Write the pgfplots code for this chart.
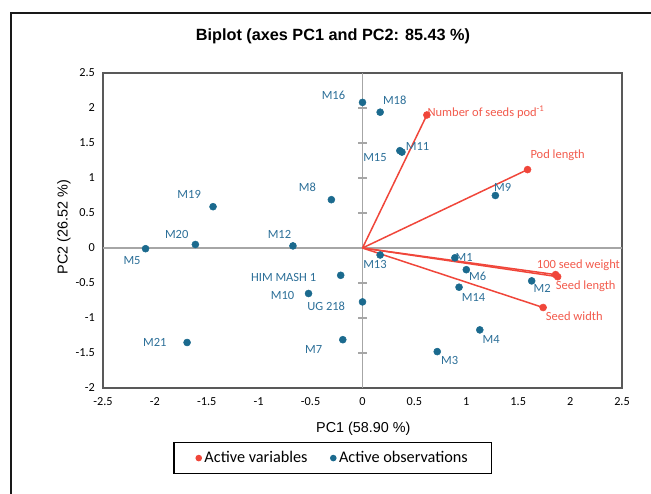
\documentclass[border=0pt]{standalone}
\usepackage{pgfplots}
\pgfplotsset{compat=1.18}
\usepackage{fontspec}
\setmainfont{Carlito}
\newfontfamily\arialfont{Liberation Sans}

\definecolor{obsblue}{HTML}{1B6A8E}
\definecolor{obstext}{HTML}{2C6F98}
\definecolor{varred}{HTML}{F0463A}
\definecolor{vartext}{HTML}{F25A4C}
\definecolor{zerogray}{HTML}{A6A6A6}
\definecolor{framegray}{HTML}{595959}

\pgfplotstableread{
x     y
0.62  1.90
1.59  1.12
1.86 -0.38
1.88 -0.41
1.74 -0.85
}\vars

\pgfplotstableread{
x      y
 0.00  2.08
 0.17  1.94
 0.36  1.39
 0.38  1.37
 1.28  0.75
-0.30  0.69
-1.44  0.59
-1.61  0.05
-2.09 -0.01
-0.67  0.03
 0.17 -0.10
-0.21 -0.39
-0.52 -0.65
 0.00 -0.77
-1.69 -1.35
-0.19 -1.31
 0.89 -0.14
 1.00 -0.31
 1.63 -0.47
 0.93 -0.56
 1.13 -1.17
 0.72 -1.48
}\obs

\begin{document}
\begin{tikzpicture}
\useasboundingbox (0pt,0pt) rectangle (520.8pt,395.2pt);
\draw[line width=1.6pt, black!90] (8.4pt,-5pt) -- (8.4pt,384.8pt) -- (530pt,384.8pt);

\node[font=\arialfont\bfseries\fontsize{13}{15}\selectfont, anchor=base]
  at (266.4pt,362.4pt) {Biplot (axes PC1 and PC2: 85.43 \%)};
\node[font=\arialfont\fontsize{11.5}{14}\selectfont, anchor=base]
  at (290.7pt,49pt) {PC1 (58.90 \%)};
\node[font=\arialfont\fontsize{11.5}{14}\selectfont, anchor=base, rotate=90]
  at (54.1pt,213.6pt) {PC2 (26.52 \%)};

\begin{axis}[
    at={(82.4pt,84.8pt)}, anchor=south west,
    scale only axis, width=415.2pt, height=252pt,
    xmin=-2.5, xmax=2.5, ymin=-2, ymax=2.5,
    xtick={-2.5,-2,-1.5,-1,-0.5,0,0.5,1,1.5,2,2.5},
    xticklabels={-2.5,-2,-1.5,-1,-0.5,0,0.5,1,1.5,2,2.5},
    ytick={-2,-1.5,-1,-0.5,0,0.5,1,1.5,2,2.5},
    yticklabels={-2,-1.5,-1,-0.5,0,0.5,1,1.5,2,2.5},
    major tick length=0pt,
    ticklabel style={font=\fontsize{9.8}{11}\selectfont},
    xticklabel style={yshift=-4pt},
    yticklabel style={xshift=-3pt},
    axis line style={framegray, line width=1pt},
    clip=false,
    legend columns=2,
    legend style={at={(axis description cs:0.443,-0.1714)}, anchor=north,
        draw=black, line width=1.2pt, font=\fontsize{13}{15}\selectfont,
        inner xsep=17pt, inner ysep=5pt,
        /tikz/every even column/.append style={column sep=16pt}},
]
% zero lines with their ticks
\draw[zerogray, line width=1.2pt] (axis cs:-2.5,0) -- (axis cs:2.5,0);
\draw[zerogray, line width=1.2pt] (axis cs:0,-2) -- (axis cs:0,2.5);
\pgfplotsinvokeforeach{-1.5,-1,-0.5,0.5,1,1.5,2}{
  \draw[zerogray, line width=1pt] (axis cs:-0.04,#1) -- (axis cs:0.04,#1);
}

% vectors
\addplot[varred, line width=1.2pt, forget plot] coordinates {(0,0) (0.62,1.90)};
\addplot[varred, line width=1.2pt, forget plot] coordinates {(0,0) (1.59,1.12)};
\addplot[varred, line width=1.2pt, forget plot] coordinates {(0,0) (1.86,-0.38)};
\addplot[varred, line width=1.2pt, forget plot] coordinates {(0,0) (1.88,-0.41)};
\addplot[varred, line width=1.2pt, forget plot] coordinates {(0,0) (1.74,-0.85)};

\addplot[only marks, mark=*, mark size=2.8pt, varred,
  legend image code/.code={\fill[varred] (0pt,0pt) circle (2pt);}]
  table {\vars};
\addlegendentry{Active variables}

\addplot[only marks, mark=*, mark size=2.8pt, obsblue,
  legend image code/.code={\fill[obsblue] (0pt,0pt) circle (2pt);}]
  table {\obs};
\addlegendentry{Active observations}

% variable names
\begin{scope}[every node/.style={font=\fontsize{10}{12}\selectfont, text=vartext, anchor=base, inner sep=0pt}]
\node at (axis cs:1.19,1.88) {Number of seeds pod\textsuperscript{-1}};
\node at (axis cs:1.88,1.28) {Pod length};
\node at (axis cs:2.08,-0.30) {100 seed weight};
\node at (axis cs:2.15,-0.60) {Seed length};
\node at (axis cs:2.04,-1.04) {Seed width};
\end{scope}

% observation names
\begin{scope}[every node/.style={font=\fontsize{10}{12}\selectfont, text=obstext, anchor=base, inner sep=0pt}]
\node at (axis cs:-0.28,2.12) {M16};
\node at (axis cs:0.31,2.05) {M18};
\node at (axis cs:0.12,1.23) {M15};
\node at (axis cs:0.53,1.39) {M11};
\node at (axis cs:1.35,0.80) {M9};
\node at (axis cs:-0.53,0.80) {M8};
\node at (axis cs:-1.67,0.71) {M19};
\node at (axis cs:-1.79,0.14) {M20};
\node at (axis cs:-2.22,-0.23) {M5};
\node at (axis cs:-0.80,0.14) {M12};
\node at (axis cs:0.12,-0.30) {M13};
\node at (axis cs:-0.76,-0.48) {HIM MASH 1};
\node at (axis cs:-0.77,-0.74) {M10};
\node at (axis cs:-0.35,-0.89) {UG 218};
\node at (axis cs:-2.00,-1.41) {M21};
\node at (axis cs:-0.47,-1.51) {M7};
\node at (axis cs:0.98,-0.20) {M1};
\node at (axis cs:1.11,-0.46) {M6};
\node at (axis cs:1.07,-0.76) {M14};
\node at (axis cs:1.73,-0.64) {M2};
\node at (axis cs:1.24,-1.36) {M4};
\node at (axis cs:0.84,-1.67) {M3};
\end{scope}
\end{axis}
\end{tikzpicture}
\end{document}
